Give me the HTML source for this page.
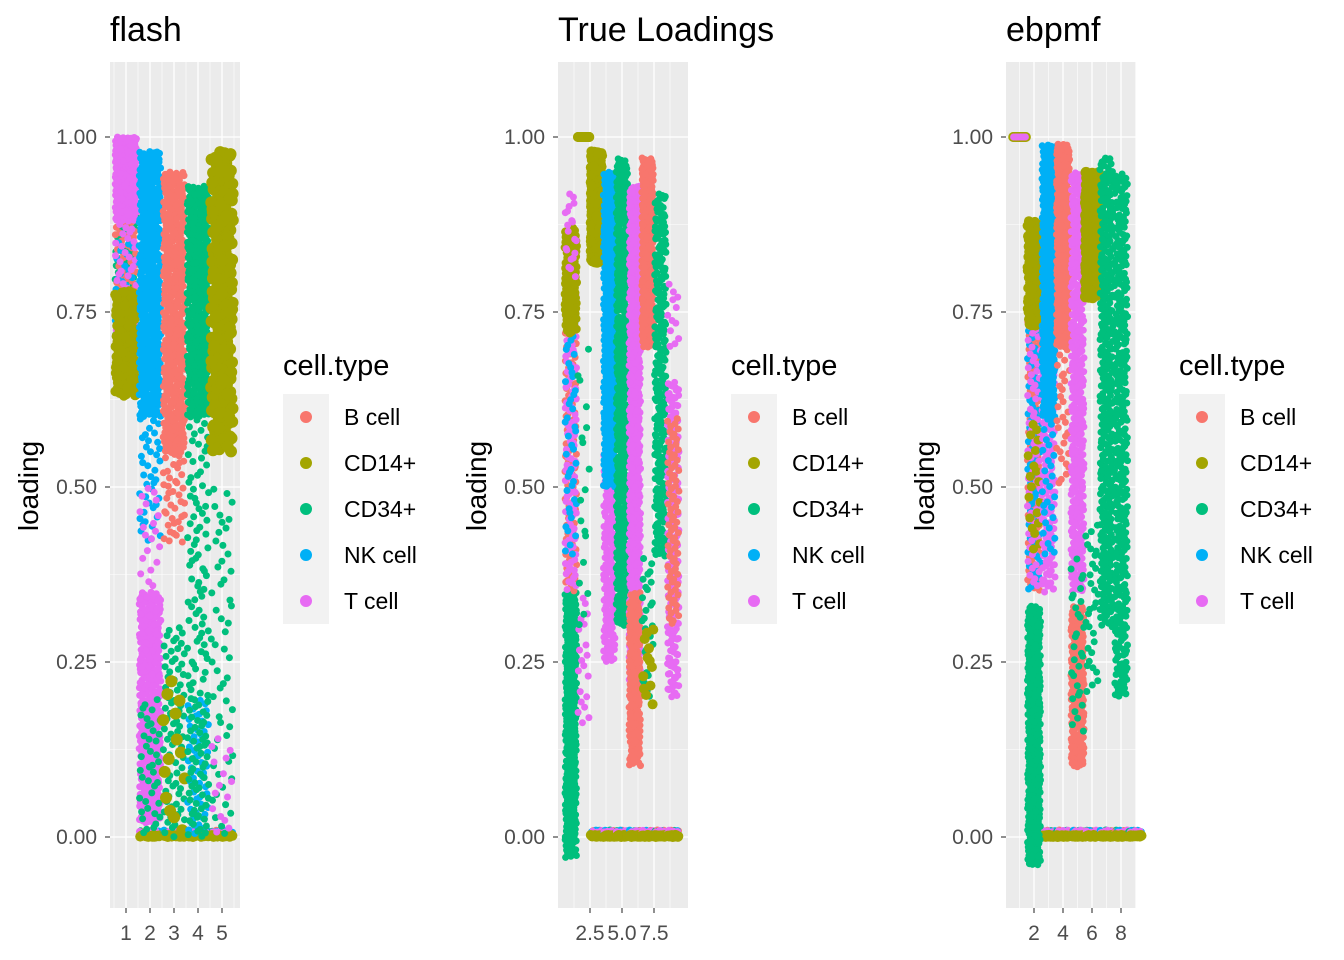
<!DOCTYPE html>
<html><head><meta charset="utf-8">
<style>
html,body{margin:0;padding:0;background:#fff;}
svg{display:block;font-family:"Liberation Sans",sans-serif;}
</style></head>
<body>
<svg id="chart" width="1344" height="960" viewBox="0 0 1344 960"></svg>
<script>
// ---- data arrays ----
const cellTypes = ['B cell','CD14+','CD34+','NK cell','T cell'];
const typeColors = ['#F8766D','#A3A500','#00BF7D','#00B0F6','#E76BF3'];
const panelTitles = ['flash','True Loadings','ebpmf'];
const yTicks = [0, 0.25, 0.5, 0.75, 1.0];
const yTickLabels = ['0.00','0.25','0.50','0.75','1.00'];
const xTicks1 = [1,2,3,4,5];
const xTicks2 = [2.5,5.0,7.5];
const xTickLabels2 = ['2.5','5.0','7.5'];
const xTicks3 = [2,4,6,8];
// clusters: [factor, typeIndex, yLow, yHigh, count, radius]
const clustersFlash = [
 [1,2,0.70,0.90,90,3.5],[1,0,0.72,0.88,60,3.5],[1,3,0.70,0.85,30,3.5],[1,4,0.72,0.90,45,3.5],[1,1,0.63,0.78,140,5],[1,4,0.88,1.0,320,3.5],
 [2,3,0.42,0.60,40,3.5],[2,3,0.60,0.98,460,3.5],[2,4,0.35,0.50,20,3.5],[2,4,0.02,0.35,380,3.5],[2,2,0.0,0.2,40,3.5],
 [3,0,0.42,0.55,40,3.5],[3,0,0.55,0.95,460,3.5],[3,2,0.0,0.30,80,3.5],[3,1,0.0,0.25,14,6],
 [4,2,0.20,0.60,80,3.5],[4,2,0.60,0.93,420,3.5],[4,3,0.0,0.20,50,3.5],[4,2,0.0,0.20,60,3.5],
 [5,1,0.55,0.98,220,6],[5,2,0.0,0.50,55,3.5],[5,4,0.0,0.15,15,3.5]
];
const clustersTrue = [
 [1,2,-0.03,0.35,320,3.5],[1,0,0.35,0.75,110,3.5],[1,4,0.35,0.80,110,3.5],[1,3,0.40,0.75,45,3.5],[1,1,0.72,0.87,120,4.5],[1,4,0.80,0.92,20,3.5],
 [2,1,1.0,1.0,50,5],[2,4,0.15,0.35,20,3.5],[2,2,0.30,0.70,18,3.5],
 [3,1,0.82,0.98,260,5],
 [4,4,0.25,0.55,180,3.5],[4,3,0.50,0.95,380,3.5],
 [5,2,0.30,0.97,460,3.5],
 [6,4,0.20,0.93,520,3.5],[6,0,0.10,0.35,200,3.5],
 [7,0,0.70,0.97,320,3.5],[7,2,0.20,0.40,30,3.5],[7,1,0.18,0.30,12,5],
 [8,2,0.40,0.92,260,3.5],
 [9,4,0.20,0.65,200,3.5],[9,0,0.30,0.60,80,3.5],[9,4,0.70,0.80,12,3.5]
];
const clustersEb = [
 [1,1,1.0,1.0,25,5],[1,4,1.0,1.0,8,3.5],
 [2,2,-0.04,0.33,380,3.5],[2,0,0.35,0.75,90,3.5],[2,3,0.35,0.75,70,3.5],[2,4,0.35,0.75,70,3.5],[2,1,0.73,0.88,120,5],[2,1,0.40,0.60,20,4.5],
 [3,4,0.35,0.70,160,3.5],[3,3,0.60,0.99,380,3.5],[3,3,0.40,0.60,30,3.5],
 [4,0,0.70,0.99,380,3.5],[4,0,0.50,0.70,30,3.5],
 [5,4,0.35,0.95,420,3.5],[5,0,0.10,0.33,240,3.5],[5,2,0.15,0.40,30,3.5],
 [6,1,0.77,0.95,260,5.5],[6,2,0.20,0.45,30,3.5],
 [7,2,0.30,0.97,360,3.5],[8,2,0.20,0.95,360,3.5]
];
// zero-row factors per panel
const zeroFactorsFlash = [2,3,4,5];
const zeroFactorsTrue = [3,4,5,6,7,8,9];
const zeroFactorsEb = [3,4,5,6,7,8,9];

// ---- drawing ----
const NS='http://www.w3.org/2000/svg';
const svg=document.getElementById('chart');
function mk(tag,attrs,parent){const e=document.createElementNS(NS,tag);for(const k in attrs)e.setAttribute(k,attrs[k]);(parent||svg).appendChild(e);return e;}
function halton(i,b){let f=1,r=0;while(i>0){f/=b;r+=f*(i%b);i=Math.floor(i/b);}return r;}
const yPix=v=>837-v*700;
const panels=[
 {left:110,right:240,x:u=>126+24*(u-1),ppu:24,clusters:clustersFlash,zeros:zeroFactorsFlash,major:xTicks1,labels:xTicks1.map(String),minor:[0.5,1.5,2.5,3.5,4.5,5.5]},
 {left:558,right:688,x:u=>590+12.8*(u-2.5),ppu:12.8,clusters:clustersTrue,zeros:zeroFactorsTrue,major:xTicks2,labels:xTickLabels2,minor:[1.25,3.75,6.25,8.75]},
 {left:1006,right:1136,x:u=>1034+14.5*(u-2),ppu:14.5,clusters:clustersEb,zeros:zeroFactorsEb,major:xTicks3,labels:xTicks3.map(String),minor:[1,3,5,7,9]}
];
let seed=1;
panels.forEach((p,pi)=>{
 const g=mk('g',{});
 
 
 const bg=mk('rect',{x:p.left,y:62,width:p.right-p.left,height:846,fill:'#EBEBEB'},g);
 
 
 [0.125,0.375,0.625,0.875].forEach(v=>mk('line',{x1:p.left,x2:p.right,y1:yPix(v),y2:yPix(v),stroke:'#fff','stroke-width':0.6},g));
 p.minor.forEach(u=>{const x=p.x(u);if(x>p.left&&x<p.right)mk('line',{x1:x,x2:x,y1:62,y2:908,stroke:'#fff','stroke-width':0.6},g);});
 yTicks.forEach(v=>mk('line',{x1:p.left,x2:p.right,y1:yPix(v),y2:yPix(v),stroke:'#fff','stroke-width':1.3},g));
 p.major.forEach(u=>mk('line',{x1:p.x(u),x2:p.x(u),y1:62,y2:908,stroke:'#fff','stroke-width':1.3},g));
 const pts=mk('g',{},g);
 
 
 const jw=0.45*p.ppu;
 function drawCluster(f,t,lo,hi,n,r){
  for(let i=0;i<n;i++){
   seed++;
   const jx=(halton(seed,2)*2-1)*jw;
   const fy=halton(seed,3);
   const v=lo+(hi-lo)*fy;
   const c=mk('circle',{cx:(p.x(f)+jx).toFixed(1),cy:yPix(v).toFixed(1),r:r,fill:typeColors[t]},pts);
   
   
  }
 }
 p.zeros.forEach(f=>{[2,0,3,4].forEach(t=>drawCluster(f,t,0,0.01,10,3.5));drawCluster(f,1,0,0.003,16,5);});
 p.clusters.forEach(c=>drawCluster(c[0],c[1],c[2],c[3],c[4],c[5]));
 yTicks.forEach((v,i)=>{
  mk('line',{x1:p.left-5,x2:p.left,y1:yPix(v),y2:yPix(v),stroke:'#333','stroke-width':1.1},g);
  const t=mk('text',{x:p.left-13,y:yPix(v)+7,'text-anchor':'end','font-size':21,fill:'#4D4D4D'},g);
  t.textContent=yTickLabels[i];
  
  
 });
 p.major.forEach((u,i)=>{
  mk('line',{x1:p.x(u),x2:p.x(u),y1:908,y2:913,stroke:'#333','stroke-width':1.1},g);
  const t=mk('text',{x:p.x(u),y:940,'text-anchor':'middle','font-size':21,fill:'#4D4D4D'},g);
  t.textContent=p.labels[i];
  
  
 });
 const ttl=mk('text',{x:p.left,y:41,'font-size':34,fill:'#000'},g);
 ttl.textContent=panelTitles[pi];
 
 
 const yl=mk('text',{x:0,y:0,transform:`translate(${p.left-72},486) rotate(-90)`,'text-anchor':'middle','font-size':28,fill:'#000'},g);
 yl.textContent='loading';
 
 
 const lx=p.left+173;
 const lg=mk('g',{},g);
 
 
 const lt=mk('text',{x:lx,y:375,'font-size':29,fill:'#000'},lg);
 lt.textContent='cell.type';
 
 
 cellTypes.forEach((ct,i)=>{
  const ky=394+46*i;
  const e=mk('g',{},lg);
  
  
  mk('rect',{x:lx,y:ky,width:46,height:46,fill:'#F2F2F2'},e);
  mk('circle',{cx:lx+23,cy:ky+23,r:6,fill:typeColors[i]},e);
  const tx=mk('text',{x:lx+61,y:ky+31,'font-size':23,fill:'#000'},e);
  tx.textContent=ct;
 });
});
</script>
</body></html>
